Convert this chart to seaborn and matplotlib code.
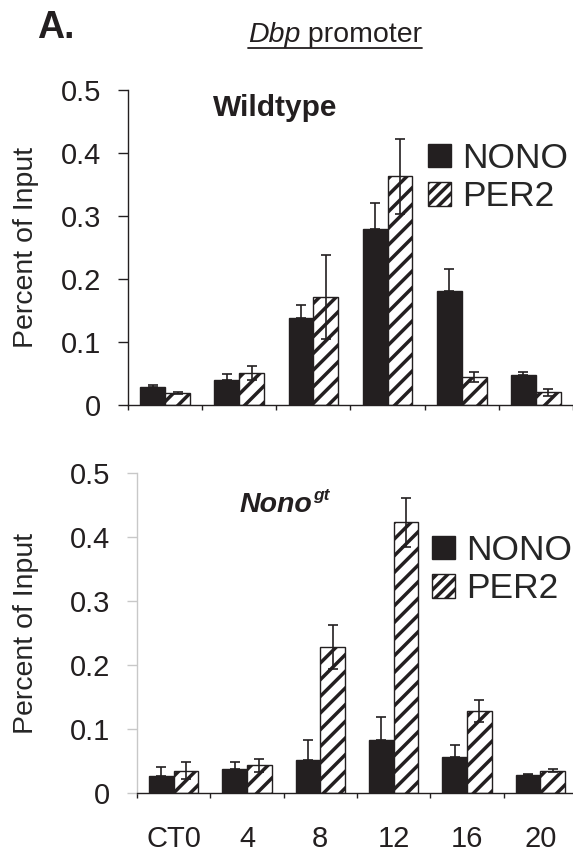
import matplotlib
matplotlib.use("Agg")
import matplotlib.pyplot as plt
import seaborn as sns
import pandas as pd
import numpy as np
from matplotlib.patches import Patch
from matplotlib.lines import Line2D

# ---------------- data ----------------
times = ["CT0", "4", "8", "12", "16", "20"]
proteins = ["NONO", "PER2"]

wt_nono = [0.028, 0.040, 0.138, 0.280, 0.181, 0.048]
wt_nono_err = [0.004, 0.009, 0.020, 0.040, 0.035, 0.005]
wt_per2 = [0.019, 0.051, 0.171, 0.363, 0.045, 0.020]
wt_per2_err = [0.002, 0.011, 0.067, 0.060, 0.008, 0.005]

gt_nono = [0.026, 0.038, 0.051, 0.083, 0.057, 0.028]
gt_nono_err = [0.015, 0.011, 0.032, 0.036, 0.018, 0.001]
gt_per2 = [0.035, 0.043, 0.228, 0.423, 0.128, 0.035]
gt_per2_err = [0.013, 0.010, 0.035, 0.038, 0.017, 0.002]

yticks = [0, 0.1, 0.2, 0.3, 0.4, 0.5]
ytick_labels = ["0", "0.1", "0.2", "0.3", "0.4", "0.5"]

sns.set_theme(style="white")
plt.rcParams["font.family"] = ["Liberation Sans", "DejaVu Sans"]
plt.rcParams["hatch.linewidth"] = 2.5
plt.rcParams["hatch.color"] = "#231f20"

W, H = 573, 859
fig = plt.figure(figsize=(W / 100, H / 100), dpi=100)


def rect(l, r, t, b):
    return [l / W, 1 - b / H, (r - l) / W, (b - t) / H]


ax1 = fig.add_axes(rect(128, 573, 90, 405))
ax2 = fig.add_axes(rect(137, 577, 473, 793))


def make_df(nono, per2):
    return pd.DataFrame({
        "time": times * 2,
        "protein": ["NONO"] * len(times) + ["PER2"] * len(times),
        "value": list(nono) + list(per2),
    })


def draw(ax, nono, nono_err, per2, per2_err, spine_color):
    df = make_df(nono, per2)
    sns.barplot(data=df, x="time", y="value", hue="protein", order=times,
                hue_order=proteins, palette=["#231f20", "white"],
                edgecolor="#231f20", linewidth=1.0, width=0.67,
                errorbar=None, legend=False, saturation=1, ax=ax)
    c_nono, c_per2 = ax.containers[0], ax.containers[1]
    for p in c_per2:
        p.set_hatch("//")
    xs_n = [p.get_x() + p.get_width() / 2 for p in c_nono]
    xs_p = [p.get_x() + p.get_width() / 2 for p in c_per2]
    ax.errorbar(xs_n, nono, yerr=[np.zeros(len(nono)), nono_err], fmt="none",
                ecolor="#231f20", elinewidth=1.2, capsize=3.5, capthick=1.2, zorder=5)
    ax.errorbar(xs_p, per2, yerr=per2_err, fmt="none",
                ecolor="#231f20", elinewidth=1.2, capsize=3.5, capthick=1.2, zorder=5)
    ax.set_ylim(0, 0.5)
    ax.set_yticks(yticks)
    ax.set_yticklabels(ytick_labels, fontsize=21)
    ax.set_xticks(np.arange(-0.5, len(times) + 0.5, 1.0))
    ax.set_xticklabels([])
    ax.set_xlabel("")
    ax.set_ylabel("Percent of Input", fontsize=20.5)
    for s in ["top", "right"]:
        ax.spines[s].set_visible(False)
    ax.spines["bottom"].set_color("#231f20")
    ax.spines["bottom"].set_linewidth(1.0)
    ax.spines["left"].set_color(spine_color)
    ax.spines["left"].set_linewidth(1.0)
    ax.tick_params(axis="y", direction="out", length=7.2, width=1.0,
                   pad=12, color=spine_color, left=True, labelcolor="#231f20")
    ax.tick_params(axis="x", direction="out", length=3.5, width=1.0,
                   color="#231f20", bottom=True)
    ax.patch.set_alpha(0)


draw(ax1, wt_nono, wt_nono_err, wt_per2, wt_per2_err, "#231f20")
draw(ax2, gt_nono, gt_nono_err, gt_per2, gt_per2_err, "#c8c8c8")
ax1.set_xlim(-0.5, 5.5)
ax2.set_xlim(-0.5, 5.5)

# bottom category labels
for i, t in enumerate(times):
    ax2.text(i, -0.072, t, ha="center", va="center", fontsize=21,
             color="#231f20", transform=ax2.transData, clip_on=False)

# y-label positions (right edge of rotated label)
ax1.yaxis.set_label_coords((39 - 128) / 445, 0.5)
ax2.yaxis.set_label_coords((39 - 137) / 440, 0.5)

# legends
handles = [Patch(facecolor="#231f20", edgecolor="#231f20", label="NONO"),
           Patch(facecolor="white", edgecolor="#231f20", hatch="///", label="PER2")]
for ax, (lx, ty) in [(ax1, (428, 142)), (ax2, (432, 534))]:
    ax.legend(handles=handles, loc="upper left",
              bbox_to_anchor=(lx / W, 1 - ty / H), bbox_transform=fig.transFigure,
              frameon=False, fontsize=25.5, handlelength=0.65, handleheight=0.65,
              handletextpad=0.3, labelspacing=0.15, borderpad=0, borderaxespad=0)

# titles
fig.text(37 / W, 1 - 38 / H, "A.", fontsize=27, fontweight="bold",
         color="#231f20", ha="left", va="baseline")
t1 = fig.text(248 / W, 1 - 42 / H, "Dbp", fontsize=20.5, style="italic",
              color="#231f20", ha="left", va="baseline")
fig.canvas.draw()
r = fig.canvas.get_renderer()
bb = t1.get_window_extent(r)
t2 = fig.text(bb.x1 / W, 1 - 42 / H, " promoter", fontsize=20.5,
              color="#231f20", ha="left", va="baseline")
fig.canvas.draw()
bb2 = t2.get_window_extent(r)
fig.add_artist(Line2D([248 / W, bb2.x1 / W], [1 - 48 / H, 1 - 48 / H],
                      color="#231f20", lw=1.3, transform=fig.transFigure))

fig.text(275 / W, 1 - 108 / H, "Wildtype", fontsize=21.5, fontweight="bold",
         color="#231f20", ha="center", va="center")
t3 = fig.text(240 / W, 1 - 512 / H, "Nono", fontsize=20.5, fontweight="bold",
              style="italic", color="#231f20", ha="left", va="baseline")
fig.canvas.draw()
bb3 = t3.get_window_extent(r)
fig.text(bb3.x1 / W, 1 - 500 / H, "gt", fontsize=12.5, fontweight="bold",
         style="italic", color="#231f20", ha="left", va="baseline")

fig.savefig("out.png", dpi=100)
